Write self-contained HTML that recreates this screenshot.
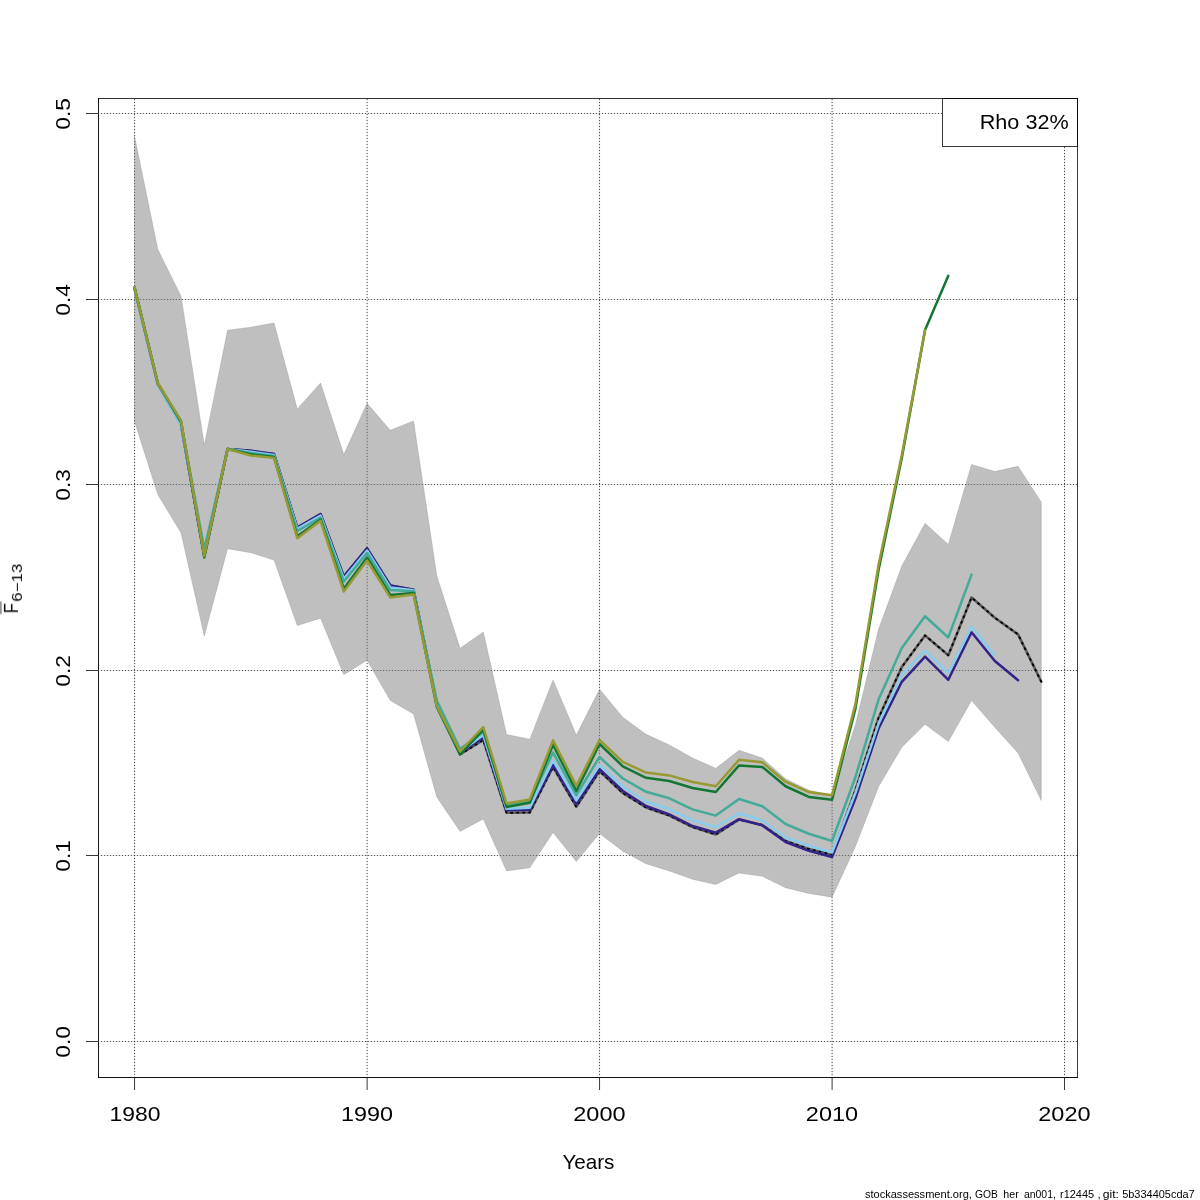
<!DOCTYPE html>
<html><head><meta charset="utf-8"><title>Fbar retro</title>
<style>
html,body{margin:0;padding:0;background:#fff;}
body{width:1200px;height:1200px;overflow:hidden;font-family:"Liberation Sans",sans-serif;}
svg{display:block;}
text{font-family:"Liberation Sans",sans-serif;fill:#000;}
</style></head><body>
<svg width="1200" height="1200" viewBox="0 0 1200 1200">
<rect x="0" y="0" width="1200" height="1200" fill="#ffffff"/>
<g stroke="#000" stroke-opacity="0.68" stroke-width="1" fill="none" stroke-dasharray="1.3 1.7">
<line x1="100.85" y1="113.5" x2="1077" y2="113.5"/>
<line x1="100.85" y1="299.5" x2="1077" y2="299.5"/>
<line x1="100.85" y1="484.5" x2="1077" y2="484.5"/>
<line x1="100.85" y1="670.5" x2="1077" y2="670.5"/>
<line x1="100.85" y1="855.5" x2="1077" y2="855.5"/>
<line x1="100.85" y1="1041.5" x2="1077" y2="1041.5"/>
</g>
<g stroke="#000" stroke-opacity="0.72" stroke-width="1" fill="none" stroke-dasharray="1.3 1.7">
<line x1="134.55" y1="1075.15" x2="134.55" y2="99"/>
<line x1="367.12" y1="1075.15" x2="367.12" y2="99"/>
<line x1="599.55" y1="1075.15" x2="599.55" y2="99"/>
<line x1="832.10" y1="1075.15" x2="832.10" y2="99"/>
<line x1="1064.50" y1="1075.15" x2="1064.50" y2="99"/>
</g>
<polygon points="134.55,421.40 157.80,494.50 181.05,533.00 204.30,636.00 227.55,548.70 250.80,552.70 274.05,560.10 297.30,625.50 320.55,618.20 343.80,674.70 367.05,660.20 390.30,700.50 413.55,713.90 436.80,797.00 460.05,831.40 483.30,818.90 506.55,870.95 529.80,867.70 553.05,832.40 576.30,861.60 599.55,833.45 622.80,851.20 646.05,863.70 669.30,870.95 692.55,879.30 715.80,884.50 739.05,873.00 762.30,876.20 785.55,887.70 808.80,893.45 832.05,897.20 855.30,846.70 878.55,786.70 901.80,747.20 925.05,724.20 948.30,741.60 971.55,700.50 994.80,727.20 1018.05,753.00 1041.30,800.50 1041.30,502.30 1018.05,466.30 994.80,471.55 971.55,464.50 948.30,544.50 925.05,523.30 901.80,565.90 878.55,629.30 855.30,725.30 832.05,795.30 808.80,790.30 785.55,778.80 762.30,758.00 739.05,750.30 715.80,768.30 692.55,758.00 669.30,744.90 646.05,734.30 622.80,717.30 599.55,689.30 576.30,735.10 553.05,679.90 529.80,739.30 506.55,734.50 483.30,632.00 460.05,648.30 436.80,575.70 413.55,420.90 390.30,430.30 367.05,403.30 343.80,454.60 320.55,383.00 297.30,409.05 274.05,323.00 250.80,327.20 227.55,330.30 204.30,444.90 181.05,296.30 157.80,249.30 134.55,136.30" fill="#7f7f7f" fill-opacity="0.5" stroke="#7f7f7f" stroke-opacity="0.3" stroke-width="0.9" stroke-linejoin="round"/>
<g fill="none" stroke-linejoin="round" stroke-linecap="round" stroke-width="2.50">
<polyline points="134.55,288.60 157.80,384.00 181.05,424.80 204.30,556.00 227.55,449.00 250.80,450.80 274.05,454.10 297.30,527.60 320.55,514.00 343.80,576.60 367.05,548.40 390.30,585.50 413.55,589.80 436.80,704.00 460.05,754.50 483.30,740.00 506.55,812.75 529.80,812.50 553.05,767.00 576.30,806.70 599.55,771.00 622.80,793.00 646.05,807.50 669.30,815.50 692.55,827.00 715.80,834.40 739.05,819.50 762.30,825.00 785.55,841.00 808.80,849.00 832.05,854.60 855.30,790.50 878.55,718.00 901.80,667.00 925.05,635.40 948.30,655.20 971.55,597.50 994.80,617.70 1018.05,634.40 1041.30,681.70" stroke="#5a5a5a" stroke-width="2.6"/>
<polyline points="134.55,288.60 157.80,384.00 181.05,424.80 204.30,556.00 227.55,449.00 250.80,450.80 274.05,454.10 297.30,527.60 320.55,514.00 343.80,576.60 367.05,548.40 390.30,585.50 413.55,589.80 436.80,704.00 460.05,754.50 483.30,740.00 506.55,812.75 529.80,812.50 553.05,767.00 576.30,806.70 599.55,771.00 622.80,793.00 646.05,807.50 669.30,815.50 692.55,827.00 715.80,834.40 739.05,819.50 762.30,825.00 785.55,841.00 808.80,849.00 832.05,854.60 855.30,790.50 878.55,718.00 901.80,667.00 925.05,635.40 948.30,655.20 971.55,597.50 994.80,617.70 1018.05,634.40 1041.30,681.70" stroke="#000" stroke-width="1.9" stroke-dasharray="1.1 4.9"/>
<polyline points="134.55,288.60 157.80,384.00 181.05,424.80 204.30,556.00 227.55,449.00 250.80,450.80 274.05,454.10 297.30,527.60 320.55,514.00 343.80,576.60 367.05,548.40 390.30,585.50 413.55,589.80 436.80,704.00 460.05,753.00 483.30,737.70 506.55,810.25 529.80,810.00 553.05,765.00 576.30,804.20 599.55,769.20 622.80,791.00 646.05,806.00 669.30,814.40 692.55,826.00 715.80,832.70 739.05,819.20 762.30,825.40 785.55,842.00 808.80,850.80 832.05,857.00 855.30,798.80 878.55,728.50 901.80,681.80 925.05,656.70 948.30,679.80 971.55,632.30 994.80,661.00 1018.05,680.20" stroke="#332288"/>
<polyline points="134.55,289.30 157.80,384.60 181.05,425.60 204.30,552.50 227.55,449.00 250.80,451.80 274.05,455.00 297.30,528.80 320.55,515.50 343.80,578.80 367.05,550.50 390.30,587.50 413.55,590.30 436.80,703.00 460.05,752.00 483.30,735.00 506.55,808.75 529.80,807.75 553.05,760.40 576.30,800.40 599.55,765.00 622.80,786.50 646.05,801.50 669.30,809.20 692.55,820.20 715.80,827.00 739.05,813.30 762.30,820.20 785.55,837.50 808.80,845.80 832.05,852.50 855.30,793.30 878.55,723.60 901.80,675.00 925.05,650.40 948.30,673.00 971.55,626.70 994.80,655.20" stroke="#88ccee"/>
<polyline points="134.55,287.80 157.80,383.60 181.05,423.00 204.30,549.00 227.55,449.00 250.80,453.00 274.05,456.00 297.30,531.00 320.55,517.50 343.80,581.50 367.05,553.00 390.30,590.00 413.55,591.30 436.80,700.50 460.05,749.00 483.30,732.00 506.55,805.30 529.80,801.50 553.05,752.50 576.30,795.20 599.55,757.00 622.80,778.50 646.05,791.80 669.30,798.30 692.55,809.40 715.80,815.60 739.05,799.00 762.30,806.25 785.55,824.00 808.80,833.75 832.05,841.00 855.30,777.50 878.55,699.60 901.80,648.00 925.05,616.25 948.30,637.50 971.55,574.60" stroke="#44aa99"/>
<polyline points="134.55,287.30 157.80,383.30 181.05,421.50 204.30,557.50 227.55,449.00 250.80,454.30 274.05,457.00 297.30,536.30 320.55,519.50 343.80,588.70 367.05,557.50 390.30,595.00 413.55,593.00 436.80,707.00 460.05,754.50 483.30,729.70 506.55,807.00 529.80,802.70 553.05,744.80 576.30,791.00 599.55,744.00 622.80,766.30 646.05,777.80 669.30,781.00 692.55,788.00 715.80,792.00 739.05,765.40 762.30,767.00 785.55,786.25 808.80,796.90 832.05,799.70 855.30,709.30 878.55,570.00 901.80,458.00 925.05,330.00 948.30,275.80" stroke="#117733"/>
<polyline points="134.55,287.30 157.80,383.00 181.05,420.70 204.30,556.00 227.55,449.00 250.80,455.50 274.05,457.90 297.30,538.20 320.55,520.80 343.80,591.50 367.05,560.50 390.30,597.60 413.55,594.50 436.80,706.00 460.05,751.50 483.30,727.00 506.55,803.50 529.80,799.40 553.05,740.40 576.30,785.80 599.55,740.00 622.80,761.90 646.05,772.60 669.30,775.40 692.55,782.00 715.80,786.25 739.05,759.80 762.30,762.30 785.55,781.70 808.80,792.00 832.05,795.30 855.30,704.60 878.55,565.00 901.80,455.00 925.05,330.00" stroke="#999933"/>
</g>
<rect x="942.5" y="98.5" width="135" height="48" fill="#fff" stroke="#000" stroke-opacity="0.78" stroke-width="1"/>
<g stroke="#000" stroke-width="1" shape-rendering="crispEdges"><line x1="98" y1="98.5" x2="1078" y2="98.5" stroke-opacity="0.8"/><line x1="1077.5" y1="98" x2="1077.5" y2="1078" stroke-opacity="0.78"/><line x1="98" y1="1077.5" x2="1078" y2="1077.5" stroke-opacity="0.93"/><line x1="98.5" y1="98" x2="98.5" y2="1078" stroke-opacity="0.9"/></g>
<g stroke="#000" stroke-opacity="0.78" stroke-width="1">
<line x1="134.55" y1="1077" x2="134.55" y2="1090"/>
<line x1="367.12" y1="1077" x2="367.12" y2="1090"/>
<line x1="599.55" y1="1077" x2="599.55" y2="1090"/>
<line x1="832.10" y1="1077" x2="832.10" y2="1090"/>
<line x1="1064.50" y1="1077" x2="1064.50" y2="1090"/>
<line x1="86" y1="113.5" x2="98" y2="113.5"/>
<line x1="86" y1="299.5" x2="98" y2="299.5"/>
<line x1="86" y1="484.5" x2="98" y2="484.5"/>
<line x1="86" y1="670.5" x2="98" y2="670.5"/>
<line x1="86" y1="855.5" x2="98" y2="855.5"/>
<line x1="86" y1="1041.5" x2="98" y2="1041.5"/>
</g>
<g opacity="0.999">
<text x="135.0" y="1121.2" font-size="20.4" text-anchor="middle" textLength="51.0" lengthAdjust="spacingAndGlyphs">1980</text>
<text x="367.1" y="1121.2" font-size="20.4" text-anchor="middle" textLength="52.0" lengthAdjust="spacingAndGlyphs">1990</text>
<text x="599.4" y="1121.2" font-size="20.4" text-anchor="middle" textLength="52.3" lengthAdjust="spacingAndGlyphs">2000</text>
<text x="832.0" y="1121.2" font-size="20.4" text-anchor="middle" textLength="52.3" lengthAdjust="spacingAndGlyphs">2010</text>
<text x="1064.4" y="1121.2" font-size="20.4" text-anchor="middle" textLength="52.3" lengthAdjust="spacingAndGlyphs">2020</text>
<text transform="translate(70.2,113.9) rotate(-90)" font-size="20.4" text-anchor="middle" textLength="31.5" lengthAdjust="spacingAndGlyphs">0.5</text>
<text transform="translate(70.2,299.9) rotate(-90)" font-size="20.4" text-anchor="middle" textLength="31.5" lengthAdjust="spacingAndGlyphs">0.4</text>
<text transform="translate(70.2,484.9) rotate(-90)" font-size="20.4" text-anchor="middle" textLength="31.5" lengthAdjust="spacingAndGlyphs">0.3</text>
<text transform="translate(70.2,670.9) rotate(-90)" font-size="20.4" text-anchor="middle" textLength="31.5" lengthAdjust="spacingAndGlyphs">0.2</text>
<text transform="translate(70.2,855.9) rotate(-90)" font-size="20.4" text-anchor="middle" textLength="31.5" lengthAdjust="spacingAndGlyphs">0.1</text>
<text transform="translate(70.2,1041.9) rotate(-90)" font-size="20.4" text-anchor="middle" textLength="31.5" lengthAdjust="spacingAndGlyphs">0.0</text>
<text x="588.4" y="1168.8" font-size="20.4" text-anchor="middle" textLength="52" lengthAdjust="spacingAndGlyphs">Years</text>
<text x="1024.2" y="128.8" font-size="20.4" text-anchor="middle" textLength="89" lengthAdjust="spacingAndGlyphs">Rho 32%</text>
<g transform="translate(17.9,613.3) rotate(-90)">
<text x="0" y="0" font-size="20.4" textLength="10.2" lengthAdjust="spacingAndGlyphs">F</text>
<rect x="-0.8" y="-17.9" width="12.6" height="1.7" fill="#8a8a8a"/>
<text x="11.6" y="4.4" font-size="14.3" textLength="38" lengthAdjust="spacingAndGlyphs">6−13</text>
</g>
<text x="864.9" y="1197.8" font-size="10.2" textLength="107.0" lengthAdjust="spacingAndGlyphs">stockassessment.org,</text>
<text x="974.9" y="1197.8" font-size="10.2" textLength="22.9" lengthAdjust="spacingAndGlyphs">GOB</text>
<text x="1003.3" y="1197.8" font-size="10.2" textLength="15.4" lengthAdjust="spacingAndGlyphs">her</text>
<text x="1023.9" y="1197.8" font-size="10.2" textLength="32.0" lengthAdjust="spacingAndGlyphs">an001,</text>
<text x="1060.0" y="1197.8" font-size="10.2" textLength="34.2" lengthAdjust="spacingAndGlyphs">r12445</text>
<text x="1097.5" y="1197.8" font-size="10.2" textLength="3.2" lengthAdjust="spacingAndGlyphs">,</text>
<text x="1102.7" y="1197.8" font-size="10.2" textLength="16.2" lengthAdjust="spacingAndGlyphs">git:</text>
<text x="1122.2" y="1197.8" font-size="10.2" textLength="72.5" lengthAdjust="spacingAndGlyphs">5b334405cda7</text>
</g>
</svg>
</body></html>
